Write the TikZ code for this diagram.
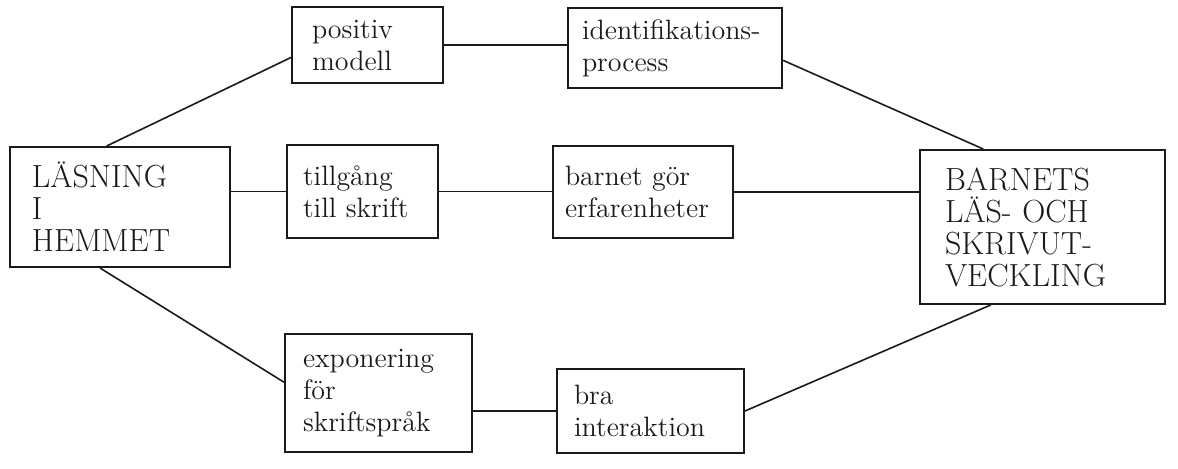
\documentclass[tikz,border=0pt]{standalone}
\usetikzlibrary{calc,positioning}
\definecolor{lhInk}{HTML}{1A1A1A}
\tikzset{
  lh canvas/.style={fill=white},
  lh box/.style={
    draw=lhInk,
    line width=1pt,
    align=left,
    inner xsep=0pt,
    inner ysep=0pt,
    text=lhInk,
    font=\fontsize{14}{16}\selectfont
  },
  lh caps/.style={font=\fontsize{16}{16}\selectfont},
  lh link/.style={draw=lhInk, line width=.8pt}
}

\begin{document}
\begin{tikzpicture}[x=.5pt,y=-.5pt]
  \path[lh canvas] (0,0) rectangle (1178,468);
  \useasboundingbox (0,0) rectangle (1178,468);

  % boxes
  \node[lh box, lh caps, minimum width=110pt, minimum height=60pt, text width=88pt]
    (home) at (120,207) {LÄSNING\\I\\HEMMET};
  \node[lh box, minimum width=75.5pt, minimum height=38pt, text width=55.5pt]
    (model) at (367.5,45) {positiv\\modell};
  \node[lh box, minimum width=107pt, minimum height=40pt, text width=93pt]
    (ident) at (675,48) {identifikations-\\process};
  \node[lh box, minimum width=75.5pt, minimum height=46.5pt, text width=59.5pt]
    (access) at (362.5,191.5) {tillgång\\till skrift};
  \node[lh box, minimum width=90pt, minimum height=46pt, text width=78pt]
    (exper) at (643,192) {barnet gör\\erfarenheter};
  \node[lh box, lh caps, minimum width=122.5pt, minimum height=77pt, text width=97.5pt]
    (child) at (1042.5,227) {BARNETS\\LÄS- OCH\\SKRIVUT-\\VECKLING};
  \node[lh box, minimum width=93.5pt, minimum height=59pt, text width=75.5pt]
    (expo) at (378.5,393) {exponering\\för\\skriftspråk};
  \node[lh box, minimum width=93.5pt, minimum height=42pt, text width=76.5pt]
    (inter) at (650.5,411) {bra\\interaktion};

  % links
  \draw[lh link] ($(home.north west)!.44!(home.north east)$) -- ($(model.north west)!.66!(model.south west)$);
  \draw[lh link] (access.west -| home.east) -- (access.west);
  \draw[lh link] ($(home.south west)!.41!(home.south east)$) -- ($(expo.north west)!.41!(expo.south west)$);
  \draw[lh link] (model.east) -- (model.east -| ident.west);
  \draw[lh link] ($(ident.north east)!.65!(ident.south east)$) -- ($(child.north west)!.26!(child.north east)$);
  \draw[lh link] (access.east) -- (access.east -| exper.west);
  \draw[lh link] (exper.east) -- (exper.east -| child.west);
  \draw[lh link] (inter.west -| expo.east) -- (inter.west);
  \draw[lh link] (inter.east) -- ($(child.south west)!.29!(child.south east)$);
\end{tikzpicture}
\end{document}
